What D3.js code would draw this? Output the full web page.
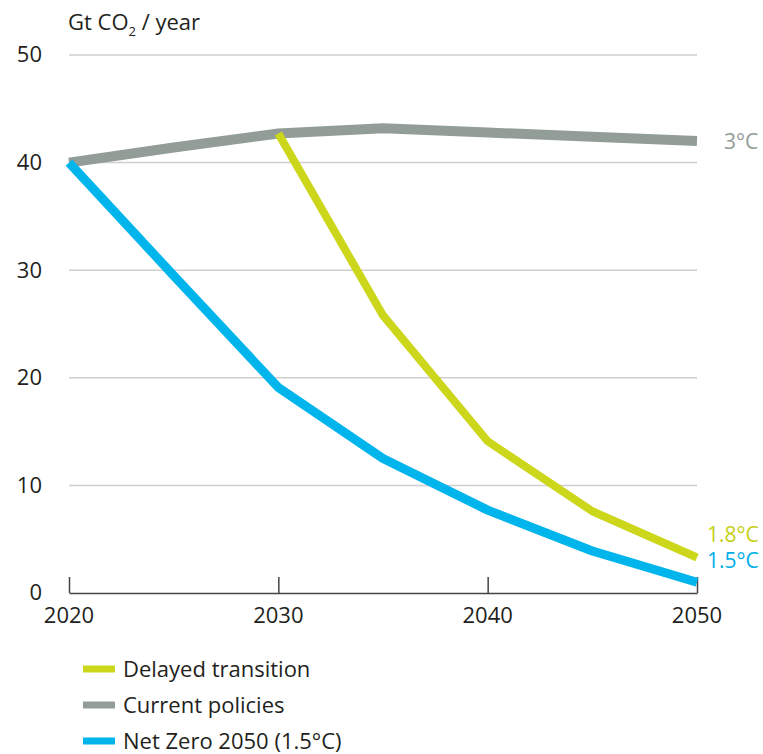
<!DOCTYPE html>
<html><head><meta charset="utf-8">
<script src="https://cdn.jsdelivr.net/npm/d3@7"></script>
<style>body{margin:0;background:#fff}svg{display:block}text{font-family:"Open Sans",sans-serif}</style>
</head><body><svg id="c" width="763" height="754"></svg>
<script>
const years = [2020, 2025, 2030, 2035, 2040, 2045, 2050];
const currentPolicies = [40.0, 41.4, 42.7, 43.2, 42.8, 42.4, 42.0];
const delayedYears = [2030, 2035, 2040, 2045, 2050];
const delayedTransition = [42.7, 25.8, 14.1, 7.6, 3.3];
const netZero = [40.0, 29.5, 19.1, 12.5, 7.7, 3.9, 1.0];
const yTicks = [0, 10, 20, 30, 40, 50];
const xTicks = [2020, 2030, 2040, 2050];
const endLabels = [{t:"3°C", v:42.0, c:"#939d98"},{t:"1.8°C", v:5.4, c:"#c5cf16"},{t:"1.5°C", v:3.0, c:"#00aee8"}];
const legendItems = [{t:"Delayed transition", c:"#ccd61a"},{t:"Current policies", c:"#939d98"},{t:"Net Zero 2050 (1.5°C)", c:"#00b4ec"}];

const svg = d3.select("#c");
const x = d3.scaleLinear().domain([2020, 2050]).range([69, 697]);
const y = d3.scaleLinear().domain([0, 50]).range([593, 55]);
const ink = "#231f20";

// gridlines
svg.append("g").selectAll("line").data(yTicks.filter(d => d > 0)).join("line")
  .attr("x1", x(2020)).attr("x2", x(2050)).attr("y1", d => y(d)).attr("y2", d => y(d))
  .attr("stroke", "#cfcfcf").attr("stroke-width", 1.5);

// y labels
svg.append("g").selectAll("text").data(yTicks).join("text")
  .attr("x", 42).attr("y", d => y(d)).attr("dy", "0.34em").attr("text-anchor", "end")
  .attr("font-size", 22).attr("fill", ink).text(d => d);

// x axis
const xa = svg.append("g").attr("transform", `translate(0,${y(0)})`)
  .call(d3.axisTop(x).tickValues(xTicks).tickFormat("").tickSize(16).tickSizeOuter(0));
xa.selectAll("path,line").attr("stroke", "#444").attr("stroke-width", 1.5);
svg.append("g").selectAll("text").data(xTicks).join("text")
  .attr("x", d => x(d)).attr("y", y(0) + 30).attr("text-anchor", "middle")
  .attr("font-size", 22).attr("fill", ink).text(d => d);

// title
const tt = svg.append("text").attr("x", 68).attr("y", 30).attr("font-size", 22).attr("fill", ink);
tt.append("tspan").text("Gt CO");
tt.append("tspan").attr("font-size", 13).attr("dy", 6).text("2");
tt.append("tspan").attr("dy", -6).text(" / year");

const line = d3.line().x(d => x(d[0])).y(d => y(d[1]));
function draw(xs, vs, color, w) {
  svg.append("path").datum(xs.map((d, i) => [d, vs[i]])).attr("d", line)
    .attr("fill", "none").attr("stroke", color).attr("stroke-width", w)
    .attr("stroke-linejoin", "round");
}
draw(years, currentPolicies, "#939d98", 10);
draw(delayedYears, delayedTransition, "#ccd61a", 8);
draw(years, netZero, "#00b4ec", 9);

// end labels
svg.append("g").selectAll("text").data(endLabels).join("text")
  .attr("y", d => y(d.v)).attr("dy", "0.36em")
  .attr("font-size", 21).attr("fill", d => d.c).text(d => d.t)
  .attr("x", d => d.t === "3°C" ? 724 : 707);

// legend
const lg = svg.append("g").selectAll("g").data(legendItems).join("g")
  .attr("transform", (d, i) => `translate(83,${669 + i * 36})`);
lg.append("line").attr("x1", 0).attr("x2", 32).attr("stroke", d => d.c).attr("stroke-width", 7);
lg.append("text").attr("x", 40).attr("dy", "0.36em").attr("font-size", 22).attr("fill", ink).text(d => d.t);
</script></body></html>
